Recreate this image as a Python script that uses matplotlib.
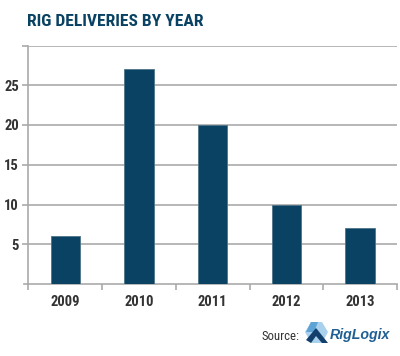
import matplotlib
matplotlib.use("Agg")
import matplotlib.pyplot as plt
from matplotlib.patches import Polygon

years = ['2009', '2010', '2011', '2012', '2013']
deliveries = [6, 27, 20, 10, 7]
y_ticks = [5, 10, 15, 20, 25, 30]
y_labels = ['5', '10', '15', '20', '25', '']

navy = '#0a4263'
grid = '#aaaaaa'
W, H = 400, 356

plt.rcParams['font.family'] = ['Roboto Condensed', 'Archivo Narrow', 'Liberation Sans', 'DejaVu Sans']

fig = plt.figure(figsize=(W / 100, H / 100), dpi=100, facecolor='white')

# Plot area, placed in pixels
left, right, top, bottom = 28.5, 397, 45.5, 284
ax = fig.add_axes([left / W, 1 - bottom / H, (right - left) / W, (bottom - top) / H])
ax.bar(range(len(years)), deliveries, width=0.4, color=navy, edgecolor='#4f7488', linewidth=0.6, zorder=3)

ax.set_xlim(-0.5, 4.5)
ax.set_ylim(0, 30)
ax.set_yticks(y_ticks)
ax.set_yticklabels(y_labels, fontsize=10.5, fontweight='bold', color='#333333')
ax.set_xticks(range(len(years)))
ax.set_xticklabels(years, fontsize=10.5, fontweight='bold', color='#333333')
ax.set_xticks([i - 0.5 for i in range(len(years) + 1)], minor=True)
ax.tick_params(axis='x', which='major', length=0, pad=8)
ax.tick_params(axis='x', which='minor', length=4, color=grid, width=1.2)
ax.tick_params(axis='y', length=4, color=grid, width=1.2, pad=3)
ax.yaxis.grid(True, color=grid, linewidth=1.2, zorder=0)
ax.set_axisbelow(True)
for side in ['top', 'right']:
    ax.spines[side].set_visible(False)
for side in ['left', 'bottom']:
    ax.spines[side].set_color(grid)
    ax.spines[side].set_linewidth(1.2)
ax.plot([-0.5 - 4 / 73.7, -0.5], [0, 0], color=grid, lw=1.2, clip_on=False)

# Overlay in pixel coordinates for title, source and logo
over = fig.add_axes([0, 0, 1, 1], facecolor='none')
over.set_xlim(0, W)
over.set_ylim(H, 0)
over.axis('off')
over.text(27, 21, 'RIG DELIVERIES BY YEAR', fontsize=12.6, fontweight='bold', color=navy, va='center', ha='left')
over.text(299, 336, 'Source:', fontsize=9.2, color='#333333', va='center', ha='right')
over.text(330, 335, 'RigLogix', fontsize=10.2, fontweight='bold', style='italic', color='#1f5f93',
          va='center', ha='left', family=['Liberation Sans', 'DejaVu Sans'])

# Logo mark
over.add_patch(Polygon([(311, 322), (322, 322), (328, 332), (322, 343), (311, 343), (305, 332)],
                       facecolor='#a9d0ec', edgecolor='none'))
over.add_patch(Polygon([(311, 322), (318, 322), (314, 332), (306, 332)], facecolor='#5ea3d6', edgecolor='none'))
over.add_patch(Polygon([(306, 340), (316, 328), (328, 343), (322, 343), (316, 336), (311, 343)],
                       facecolor='#123f6b', edgecolor='none'))

fig.savefig('out.png', dpi=100, facecolor='white')
